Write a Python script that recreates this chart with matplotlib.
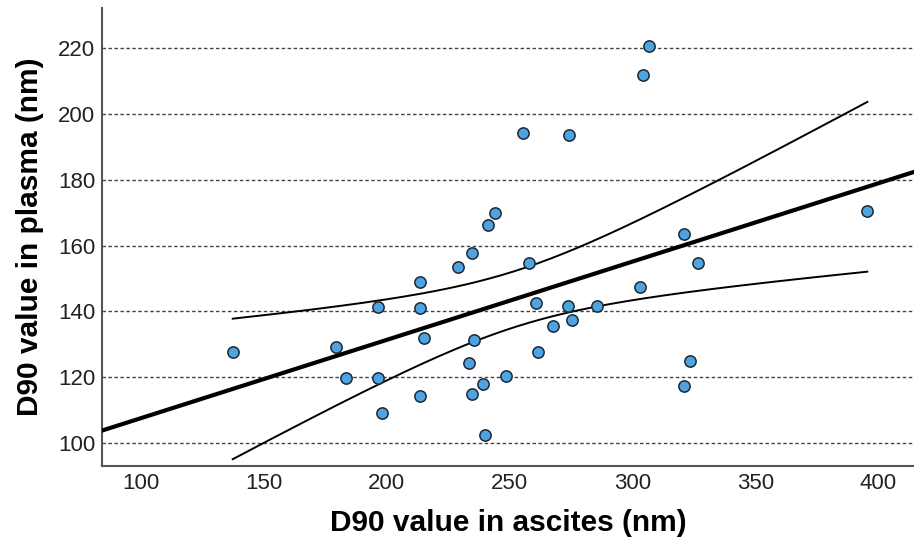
import numpy as np
import matplotlib
matplotlib.use("Agg")
import matplotlib.pyplot as plt

plt.rcParams['font.family'] = ['Liberation Sans', 'DejaVu Sans']

# D90 values (nm): ascites (x) vs plasma (y)
ascites = [137.3, 179.4, 183.3, 196.3, 196.3, 198.0, 213.6, 213.6, 215.2, 213.6,
           229.1, 258.0, 326.7, 303.2, 260.9, 273.8, 285.6, 275.3, 267.7, 235.5,
           261.6, 233.4, 323.3, 248.7, 239.1, 234.6, 320.9, 239.9, 306.6, 304.4,
           255.3, 274.1, 244.0, 241.1, 234.7, 320.9, 395.6]
plasma = [127.6, 129.1, 119.8, 141.4, 119.8, 109.2, 148.8, 141.0, 132.0, 114.2,
          153.4, 154.8, 154.8, 147.4, 142.6, 141.5, 141.5, 137.3, 135.4, 131.2,
          127.7, 124.4, 125.0, 120.5, 117.9, 115.0, 117.2, 102.5, 220.6, 211.9,
          194.1, 193.5, 169.9, 166.2, 157.8, 163.5, 170.5]

x_ticks = [100, 150, 200, 250, 300, 350, 400]
y_ticks = [100, 120, 140, 160, 180, 200, 220]
t_crit = 2.03  # two-sided 95% t value, df = n - 2

x = np.array(ascites)
y = np.array(plasma)
n = len(x)
slope, intercept = np.polyfit(x, y, 1)
resid = y - (slope * x + intercept)
s = np.sqrt(np.sum(resid ** 2) / (n - 2))
xm = x.mean()
sxx = np.sum((x - xm) ** 2)

fig = plt.figure(figsize=(9.14, 5.41), dpi=100)
ax = fig.add_axes([102 / 914, 1 - 466 / 541, (914 - 102) / 914, (466 - 8) / 541])

xlim = (84.1, 414.6)
ax.set_xlim(*xlim)
ax.set_ylim(93.0, 232.2)

for yt in y_ticks:
    ax.axhline(yt, color='#444444', lw=1.0, ls=(0, (2.5, 1.8)), zorder=1)

xf = np.linspace(xlim[0], xlim[1], 200)
ax.plot(xf, slope * xf + intercept, color='black', lw=3.0, zorder=3)

xc = np.linspace(x.min(), x.max(), 200)
yc = slope * xc + intercept
half = t_crit * s * np.sqrt(1 / n + (xc - xm) ** 2 / sxx)
ax.plot(xc, yc + half, color='black', lw=1.4, zorder=3)
ax.plot(xc, yc - half, color='black', lw=1.4, zorder=3)

ax.scatter(x, y, s=66, facecolor='#4fa3de', edgecolor='#1a2a3a', linewidth=1.1, zorder=4)

ax.set_xticks(x_ticks)
ax.set_yticks(y_ticks)
ax.tick_params(length=0, labelsize=16, colors='#222222', pad=5)
for sp in ['top', 'right']:
    ax.spines[sp].set_visible(False)
for sp in ['left', 'bottom']:
    ax.spines[sp].set_color('#555555')
    ax.spines[sp].set_linewidth(1.5)

ax.set_xlabel('D90 value in ascites (nm)', fontsize=21.5, fontweight='bold', labelpad=11)
ax.set_ylabel('D90 value in plasma (nm)', fontsize=21.5, fontweight='bold', labelpad=10)

fig.savefig('out.png', dpi=100)
